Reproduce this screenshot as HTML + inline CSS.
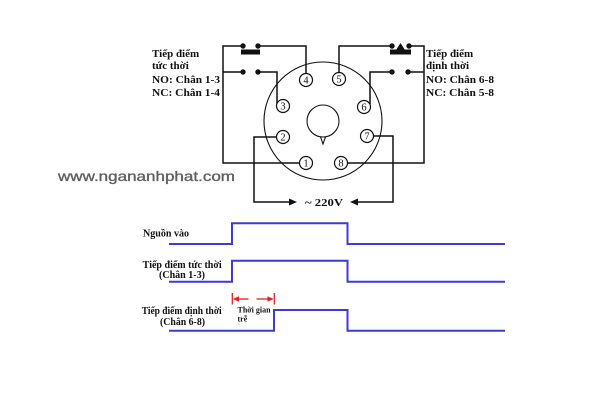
<!DOCTYPE html>
<html><head><meta charset="utf-8"><style>
html,body{margin:0;padding:0;background:#fff;width:600px;height:400px;overflow:hidden}
svg{display:block}
.t{font-family:"Liberation Serif","Noto Serif CJK SC",serif;font-weight:bold;fill:#111}
</style></head><body>
<svg width="600" height="400" viewBox="0 0 600 400" xmlns="http://www.w3.org/2000/svg">
<rect width="600" height="400" fill="#fff"/>
<g fill="none" stroke="#111" stroke-width="1.5">
  <!-- base circles -->
  <circle cx="323" cy="121" r="59" stroke-width="1.1"/>
  <circle cx="323" cy="121" r="16" stroke-width="1.1"/>
  <path d="M320.5,136.8 L323,144 L325.5,136.8" stroke-width="1.1"/>
  <!-- left wires -->
  <path d="M306,73.5 V46 H258"/>
  <path d="M243,46 H223 V163 H299.5"/>
  <path d="M223,72 H243"/>
  <path d="M258,72 H277 V103.5"/>
  <path d="M276.5,137 H254 V202 H290"/>
  <!-- right wires -->
  <path d="M339,72.5 V46 H392"/>
  <path d="M409,46 H424 V163 H347.5"/>
  <path d="M370,104 V72 H392"/>
  <path d="M408,72 H424"/>
  <path d="M373.5,136 H393 V202 H357"/>
</g>
<!-- contact dots / bars -->
<g fill="#111">
  <circle cx="243" cy="46" r="2.7"/><circle cx="258" cy="46" r="2.7"/>
  <rect x="241" y="49.5" width="19" height="5"/>
  <circle cx="243" cy="72" r="2.7"/><circle cx="258" cy="72" r="2.7"/>
  <circle cx="392" cy="46" r="2.7"/><circle cx="409" cy="46" r="2.7"/>
  <rect x="390" y="49.5" width="21" height="5"/>
  <polygon points="400.5,43 396,50 405,50"/>
  <circle cx="392" cy="72" r="2.7"/><circle cx="408" cy="72" r="2.7"/>
  <polygon points="297,202 289,198.5 289,205.5"/>
  <polygon points="350,202 358,198.5 358,205.5"/>
</g>
<!-- pins -->
<g fill="#fff" stroke="#111" stroke-width="1.2">
  <circle cx="306" cy="80" r="6.5"/>
  <circle cx="339" cy="79" r="6.5"/>
  <circle cx="283" cy="106" r="6.5"/>
  <circle cx="364" cy="107" r="6.5"/>
  <circle cx="283" cy="137" r="6.5"/>
  <circle cx="367" cy="136" r="6.5"/>
  <circle cx="306" cy="163" r="6.5"/>
  <circle cx="341" cy="163" r="6.5"/>
</g>
<g font-family="Liberation Serif, serif" font-size="10.5" fill="#111" text-anchor="middle">
  <text x="306" y="83.7">4</text>
  <text x="339" y="82.7">5</text>
  <text x="283" y="109.7">3</text>
  <text x="364" y="110.7">6</text>
  <text x="283" y="140.7">2</text>
  <text x="367" y="139.7">7</text>
  <text x="306" y="166.7">1</text>
  <text x="341" y="166.7">8</text>
</g>
<!-- labels -->
<g class="t" font-size="11">
  <text x="152" y="57">Tiếp điểm</text>
  <text x="152" y="69">tức thời</text>
  <text x="152" y="83" textLength="68" lengthAdjust="spacingAndGlyphs">NO: Chân 1-3</text>
  <text x="152" y="96" textLength="68" lengthAdjust="spacingAndGlyphs">NC: Chân 1-4</text>
  <text x="426" y="57">Tiếp điểm</text>
  <text x="426" y="69">định thời</text>
  <text x="426" y="83" textLength="68" lengthAdjust="spacingAndGlyphs">NO: Chân 6-8</text>
  <text x="426" y="96" textLength="68" lengthAdjust="spacingAndGlyphs">NC: Chân 5-8</text>
  <text x="305" y="206" textLength="38" lengthAdjust="spacingAndGlyphs">~ 220V</text>
</g>
<text x="58" y="181" font-family="Liberation Sans, sans-serif" font-size="14" fill="#606060" stroke="#606060" stroke-width="0.35" textLength="177" lengthAdjust="spacingAndGlyphs">www.ngananhphat.com</text>
<!-- timing diagram -->
<g fill="none" stroke="#3b3bd6" stroke-width="2">
  <path d="M169,244 H232 V223.3 H347.5 V244 H505"/>
  <path d="M169,281.7 H232 V260.7 H347.5 V281.7 H505"/>
  <path d="M169,330.7 H274 V310 H347.5 V330.7 H505"/>
</g>
<g stroke="#e02020" stroke-width="1.3" fill="none">
  <path d="M232.3,293 V304.5"/>
  <path d="M274.3,293 V304.5"/>
  <path d="M234,299 H248.5"/>
  <path d="M256.5,299 H272.5"/>
</g>
<g fill="#e02020">
  <polygon points="233,299 239,296.2 239,301.8"/>
  <polygon points="273.5,299 267.5,296.2 267.5,301.8"/>
</g>
<g class="t" font-size="10">
  <text x="143" y="236.5" textLength="46" lengthAdjust="spacingAndGlyphs">Nguồn vào</text>
  <text x="142.7" y="268" textLength="79" lengthAdjust="spacingAndGlyphs">Tiếp điểm tức thời</text>
  <text x="159" y="278" textLength="46" lengthAdjust="spacingAndGlyphs">(Chân 1-3)</text>
  <text x="141.7" y="314" textLength="80" lengthAdjust="spacingAndGlyphs">Tiếp điểm định thời</text>
  <text x="160" y="325" textLength="45" lengthAdjust="spacingAndGlyphs">(Chân 6-8)</text>
</g>
<g class="t" font-size="8">
  <text x="237.5" y="312.5" textLength="33" lengthAdjust="spacingAndGlyphs">Thời gian</text>
  <text x="237.5" y="321.5">trễ</text>
</g>
</svg>
</body></html>
